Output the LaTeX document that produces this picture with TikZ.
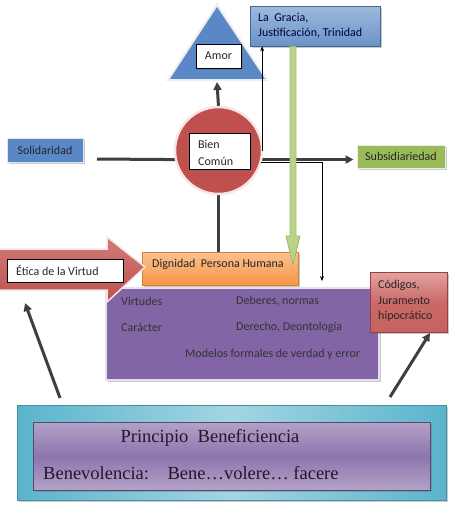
\documentclass[tikz,border=0pt]{standalone}
\usepackage{fontspec}
\setmainfont{Carlito}
\newfontfamily\serifb{Liberation Serif}
\usetikzlibrary{arrows.meta,shadows}
\definecolor{dgray}{HTML}{3F3F3F}
\definecolor{txtc}{HTML}{262626}
\definecolor{bluef}{HTML}{5A87C6}
\definecolor{blueb}{HTML}{4F81BD}
\definecolor{greenf}{HTML}{9BBB59}
\definecolor{greenl}{HTML}{B9D38C}
\definecolor{orangef}{HTML}{F79646}
\definecolor{orangel}{HTML}{FBC08F}
\definecolor{purplef}{HTML}{8165A5}
\definecolor{purplel}{HTML}{B3A2C7}
\definecolor{redf}{HTML}{C0504D}
\definecolor{redl}{HTML}{E2A3A1}
\definecolor{cyanf}{HTML}{5BB4CC}
\definecolor{cyanl}{HTML}{A3D5E3}
\begin{document}
\begin{tikzpicture}[x=1pt,y=-1pt,
  boxs/.style={rectangle, inner sep=0pt,
    drop shadow={shadow xshift=1.5pt,shadow yshift=-1.5pt,opacity=0.35,fill=black!60}},
  lbl/.style={inner sep=0pt, font=\fontsize{12}{15.5}\selectfont, text=txtc, align=left},
  heavyline/.style={line width=3pt, draw=dgray},
  heavyarrow/.style={line width=3pt, draw=dgray, -{Triangle[length=8pt,width=8pt]}},
  thinarrow/.style={line width=0.7pt, draw=black, -{Stealth[length=5pt,width=4pt]}},
  serlbl/.style={inner sep=0pt, font=\serifb\fontsize{18.5}{22}\selectfont, text=black!75!purplef}
]
\useasboundingbox (0,0) rectangle (453,509);

% triangle
\path[fill=bluef, draw=white!85!gray, line width=2pt, line join=miter]
  (217,5) -- (267,80) -- (168,80) -- cycle;
\coordinate (tribase) at (217,82);
\node[boxs, fill=white, draw=black, line width=0.6pt, minimum width=45pt, minimum height=24pt] (amor) at (218.5,56) {};
\node[lbl] (amort) at (218.5,56) {Amor};

% La Gracia
\node[boxs, top color=blueb!55!white, bottom color=blueb!85!white, draw=blueb!80!black, line width=0.6pt,
  minimum width=130pt, minimum height=40pt] (gracia) at (315,26) {};
\node[lbl, anchor=west, text=black!75!blue, font=\fontsize{12}{15}\selectfont] (graciat) at (258,26) {La\ \ Gracia,\\Justificación, Trinidad};

% Solidaridad and Subsidiariedad
\node[boxs, fill=bluef, draw=white!80!blueb, line width=1pt, minimum width=76pt, minimum height=24pt] (solid) at (45,150) {};
\node[lbl] (solidt) at (45,150) {Solidaridad};
\node[boxs, fill=greenf, draw=white!80!greenf, line width=1pt, minimum width=88pt, minimum height=23pt] (subs) at (401,156.5) {};
\node[lbl] (subst) at (401,156.5) {Subsidiariedad};

% circle
\node[circle, minimum size=87pt, inner sep=0pt] (circ) at (218.5,150.5) {};
\coordinate (solidend) at (97,159);
\draw[heavyline] (solidend) -- (circ.192);
\draw[heavyarrow, shorten >=3pt] (circ.-12) -- (circ.-12 -| subs.west);
\draw[heavyarrow] (circ.north) -- (tribase);

% Dignidad
\node[boxs, top color=orangel, bottom color=orangef, draw=orangef!85!black, line width=0.6pt,
  minimum width=156pt, minimum height=33pt] (dign) at (220,268.5) {};
\draw[heavyline] (circ.south) -- (circ.south |- dign.north);

\node[circle, minimum size=87pt, inner sep=0pt, fill=redf, draw=white!85!redf, line width=2.5pt] (circb) at (218.5,150.5) {};
\node[boxs, fill=white, draw=black, line width=0.6pt, minimum width=61pt, minimum height=36pt] (bien) at (219.5,151) {};
\node[lbl, anchor=west, font=\fontsize{12}{17}\selectfont] (bient) at (198,153) {Bien\\Común};

% thin arrows
\draw[thinarrow] (circ.east) -- (circ.east |- gracia.south);
\coordinate (tip1) at (322,281);
\draw[thinarrow] (circ.-16) -| (tip1);

% purple box
\node[boxs, fill=purplef, draw=white!80!purplef, line width=1.5pt, minimum width=273pt, minimum height=92pt] (purp) at (242.5,334) {};
\node[lbl, anchor=west, text=black!80] (virt) at (121,301) {Virtudes};
\node[lbl, anchor=west, text=black!80] (deb) at (236,301) {Deberes, normas};
\node[lbl, anchor=west, text=black!80] (car) at (121,327) {Carácter};
\node[lbl, anchor=west, text=black!80] (der) at (236,327) {Derecho, Deontología};
\node[lbl, anchor=west, text=black!80] (mod) at (185,354) {Modelos formales de verdad y error};

% Dignidad text (box redrawn on top of purple)
\node[rectangle, inner sep=0pt, top color=orangel, bottom color=orangef, draw=orangef!85!black, line width=0.6pt,
  minimum width=156pt, minimum height=33pt] (dign2) at (220,268.5) {};
\node[lbl, anchor=west] (dignt) at (152,264) {Dignidad\ \ Persona Humana};

% red block arrow
\path[top color=redf!75!white, bottom color=redf, draw=white!85!redf, line width=1.5pt, line join=miter]
  (-2,249) -- (107,249) -- (107,237) -- (145,267) -- (107,302) -- (107,290) -- (-2,290) -- cycle;
\node[fill=white, draw=black, line width=0.6pt, minimum width=116pt, minimum height=23pt, inner sep=0pt] (etica) at (65,270.5) {};
\node[lbl, anchor=west] (eticat) at (16,270.5) {Ética de la Virtud};

% green arrow
\path[fill=greenl, draw=greenf, line width=0.8pt, line join=miter]
  (290,46.5) -- (296,46.5) -- (296,236) -- (300,236) -- (293,265) -- (286,236) -- (290,236) -- cycle;

% Codigos
\node[boxs, top color=redl, bottom color=redf!90!white, middle color=redf!85!white, draw=redf!80!black, line width=0.6pt,
  minimum width=77pt, minimum height=60pt] (cod) at (408.5,302) {};
\node[lbl, anchor=west, text=black!85] (codt) at (378,301) {Códigos,\\Juramento\\hipocrático};

% bottom boxes
\node[boxs, left color=cyanf, right color=cyanf, middle color=cyanl, draw=cyanf!80!black, line width=0.6pt,
  minimum width=429pt, minimum height=95pt] (outer) at (231.5,452.5) {};
\node[boxs, top color=purplel, bottom color=purplel, middle color=purplef!90!white, draw=purplef!70!black, line width=0.6pt,
  minimum width=397pt, minimum height=68pt] (inner) at (231.5,456) {};
\node[serlbl] (prin) at (210,438) {Principio\ \ Beneficiencia};
\node[serlbl, anchor=west] (bene) at (43,473) {Benevolencia:\ \ \ \ Bene…volere…\ facere};

% bottom arrows
\coordinate (la0) at (60,398);
\coordinate (la1) at (25,303);
\coordinate (ra0) at (390,397);
\coordinate (ra1) at (430,333);
\draw[heavyarrow] (la0) -- (la1);
\draw[heavyarrow] (ra0) -- (ra1);
\end{tikzpicture}
\end{document}
